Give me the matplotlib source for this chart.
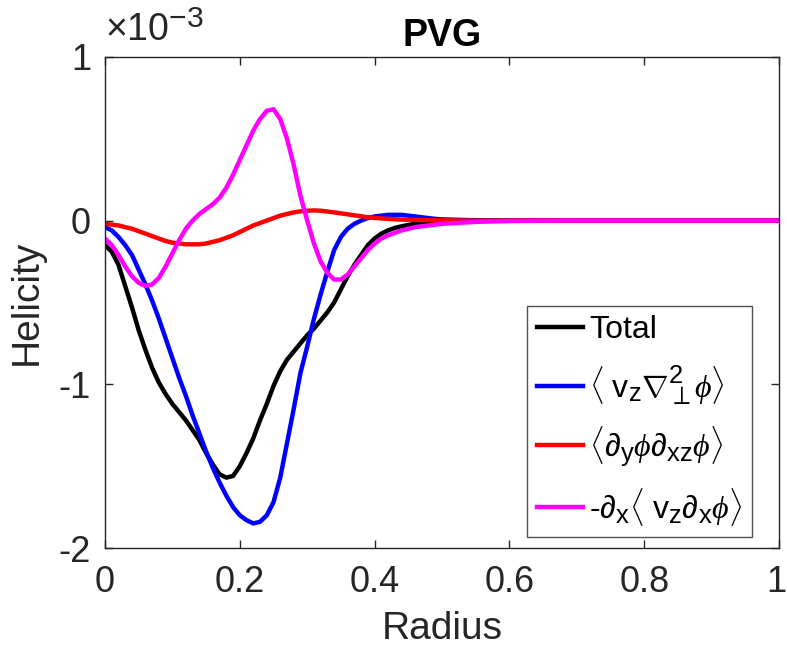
import numpy as np
import matplotlib
matplotlib.use("Agg")
import matplotlib.pyplot as plt
from matplotlib.ticker import FuncFormatter
import matplotlib.transforms as mtrans
import matplotlib._mathtext as _mt

_mt.SHRINK_FACTOR = 0.8  # MATLAB-like larger sub/superscripts

plt.rcParams['font.family'] = ['Liberation Sans', 'DejaVu Sans']
plt.rcParams['mathtext.fontset'] = 'custom'
plt.rcParams['mathtext.rm'] = 'Liberation Sans'
plt.rcParams['mathtext.it'] = 'Liberation Serif:italic'
plt.rcParams['mathtext.cal'] = 'Liberation Serif:italic'

# Radius values (shared by all series)
radius = [0.00, 0.01, 0.02, 0.03, 0.04, 0.05, 0.06, 0.07, 0.08, 0.09,
          0.10, 0.11, 0.12, 0.13, 0.14, 0.15, 0.16, 0.17, 0.18, 0.19,
          0.20, 0.21, 0.22, 0.23, 0.24, 0.25, 0.26, 0.27, 0.28, 0.29,
          0.30, 0.31, 0.32, 0.33, 0.34, 0.35, 0.36, 0.37, 0.38, 0.39,
          0.40, 0.41, 0.42, 0.43, 0.44, 0.45, 0.46, 0.47, 0.48, 0.49,
          0.50, 0.55, 0.60, 0.65, 0.70, 0.75, 0.80, 0.85, 0.90, 0.95, 1.00]

# Helicity values in units of 1e-3
total = [-0.15, -0.19, -0.27, -0.40, -0.53, -0.67, -0.79, -0.90, -0.99, -1.06,
         -1.12, -1.17, -1.22, -1.28, -1.34, -1.42, -1.49, -1.55, -1.57, -1.56,
         -1.50, -1.42, -1.33, -1.22, -1.12, -1.01, -0.92, -0.85, -0.80, -0.75,
         -0.70, -0.66, -0.61, -0.56, -0.50, -0.42, -0.34, -0.27, -0.21, -0.15,
         -0.11, -0.08, -0.06, -0.045, -0.035, -0.027, -0.02, -0.015, -0.01, -0.007,
         -0.005, -0.001, 0, 0, 0, 0, 0, 0, 0, 0, 0]

vz_lap = [-0.04, -0.06, -0.10, -0.15, -0.21, -0.30, -0.39, -0.49, -0.60, -0.72,
          -0.84, -0.96, -1.07, -1.19, -1.30, -1.41, -1.51, -1.60, -1.68, -1.75,
          -1.80, -1.83, -1.85, -1.84, -1.80, -1.72, -1.57, -1.36, -1.15, -0.93,
          -0.77, -0.60, -0.45, -0.31, -0.18, -0.10, -0.05, -0.02, 0.00, 0.015,
          0.025, 0.03, 0.035, 0.035, 0.035, 0.03, 0.025, 0.02, 0.015, 0.01,
          0.007, 0.002, 0, 0, 0, 0, 0, 0, 0, 0, 0]

dy_dxz = [-0.02, -0.025, -0.03, -0.04, -0.05, -0.065, -0.08, -0.095, -0.11, -0.125,
          -0.135, -0.14, -0.145, -0.145, -0.145, -0.14, -0.13, -0.12, -0.105, -0.09,
          -0.07, -0.05, -0.03, -0.015, 0.00, 0.015, 0.03, 0.04, 0.05, 0.056,
          0.06, 0.062, 0.06, 0.055, 0.05, 0.044, 0.038, 0.032, 0.026, 0.02,
          0.016, 0.013, 0.01, 0.008, 0.006, 0.005, 0.004, 0.003, 0.002, 0.002,
          0.001, 0, 0, 0, 0, 0, 0, 0, 0, 0, 0]

dx_vz_dx = [-0.11, -0.15, -0.21, -0.28, -0.34, -0.38, -0.40, -0.39, -0.35, -0.28,
            -0.20, -0.12, -0.05, 0.00, 0.04, 0.07, 0.10, 0.14, 0.20, 0.28,
            0.37, 0.46, 0.55, 0.62, 0.67, 0.68, 0.62, 0.50, 0.34, 0.15,
            0.00, -0.14, -0.25, -0.32, -0.36, -0.36, -0.33, -0.28, -0.23, -0.18,
            -0.14, -0.11, -0.09, -0.075, -0.06, -0.05, -0.04, -0.035, -0.03, -0.025,
            -0.02, -0.008, -0.003, -0.001, 0, 0, 0, 0, 0, 0, 0]

labels = ['Total',
          r'$\langle\ \mathrm{v}_\mathrm{z}\nabla^2_\perp\phi\rangle$',
          r'$\langle\partial_\mathrm{y}\phi\partial_\mathrm{xz}\phi\rangle$',
          r'-$\partial_\mathrm{x}\langle\ \mathrm{v}_\mathrm{z}\partial_\mathrm{x}\phi\rangle$']
colors = ['#000000', '#0000ff', '#ff0000', '#ff00ff']
scale = 1e-3

fig = plt.figure(figsize=(7.87, 6.48), dpi=100)
ax = fig.add_axes([0.1334, 0.1543, 0.8565, 0.758])

x = np.array(radius)
for ys, c, lab in zip([total, vz_lap, dy_dxz, dx_vz_dx], colors, labels):
    ax.plot(x, np.array(ys) * scale, color=c, lw=3.2, label=lab)

ax.set_xlim(0, 1)
ax.set_ylim(-2e-3, 1e-3)
ax.set_xticks([0, 0.2, 0.4, 0.6, 0.8, 1.0])
ax.set_xticklabels(['0', '0.2', '0.4', '0.6', '0.8', '1'])
ax.set_yticks([-2e-3, -1e-3, 0, 1e-3])
ax.yaxis.set_major_formatter(FuncFormatter(lambda v, p: '%d' % round(v / scale)))
ax.tick_params(direction='in', length=6, width=1, labelsize=26, colors='#262626',
               top=True, right=True)
ax.tick_params(axis='x', pad=12)
ax.tick_params(axis='y', pad=10)
for s in ax.spines.values():
    s.set_color('#262626')
    s.set_linewidth(1)

# keep the last x tick label inside the canvas
last = ax.get_xticklabels()[-1]
last.set_transform(last.get_transform() +
                   mtrans.ScaledTranslation(-3 / 100, 0, fig.dpi_scale_trans))

ax.set_xlabel('Radius', fontsize=28, color='#262626', labelpad=8)
ax.set_ylabel('Helicity', fontsize=28, color='#262626', labelpad=10)
ax.set_title('PVG', fontsize=27, fontweight='bold', pad=8)
ax.text(0.0, 1.016, r'$\times$10$^{\mathrm{-3}}$', transform=ax.transAxes,
        fontsize=27, color='#262626', ha='left', va='bottom')

leg = ax.legend(loc='lower right', bbox_to_anchor=(0.96, 0.022), fontsize=23,
                frameon=True, fancybox=False, edgecolor='#262626',
                handlelength=1.45, handletextpad=0.2,
                borderpad=0.3, labelspacing=0.55, borderaxespad=0)
leg.get_frame().set_linewidth(1)

fig.savefig('out.png', dpi=100)
